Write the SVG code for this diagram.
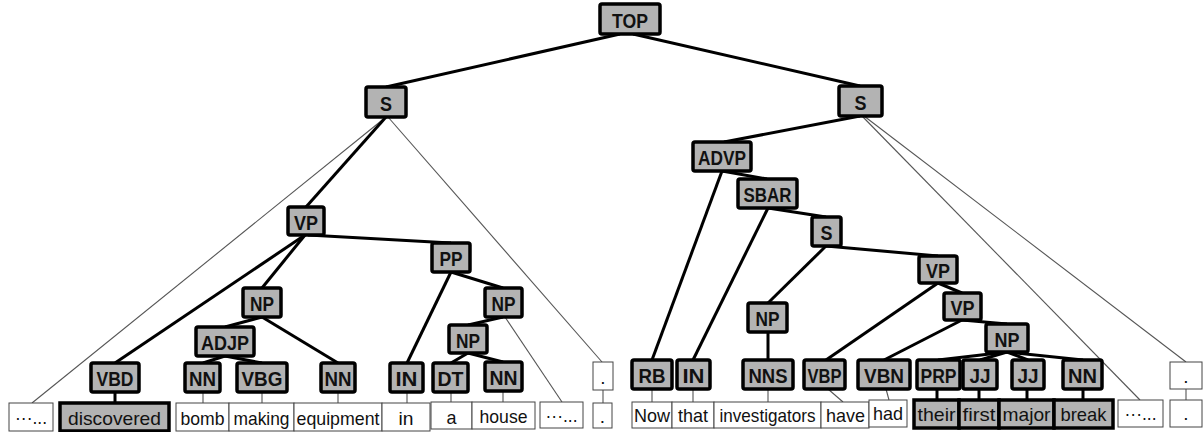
<svg xmlns="http://www.w3.org/2000/svg" width="1204" height="432" viewBox="0 0 1204 432">
<style>
.n rect{fill:#b3b3b3;stroke:#000;stroke-width:3.5}
.n text{font-family:"Liberation Sans",Arial,sans-serif;font-size:21px;font-weight:bold;fill:#111;text-anchor:middle;dominant-baseline:central}
.w rect{fill:#fff;stroke:#444;stroke-width:1}
.w text{font-family:"Liberation Sans",Arial,sans-serif;font-size:19px;fill:#111;text-anchor:middle;dominant-baseline:central}
.h rect{fill:#b3b3b3;stroke:#000;stroke-width:3.5}
.h text{font-family:"Liberation Sans",Arial,sans-serif;font-size:19px;fill:#111;text-anchor:middle;dominant-baseline:central}
.e{stroke:#000;stroke-width:3;fill:none}
.t{stroke:#555;stroke-width:1.1;fill:none}
</style>
<rect width="1204" height="432" fill="#fff"/>
<g id="connectors">
<line class="e" x1="620" y1="34" x2="386" y2="87"/>
<line class="e" x1="633" y1="34" x2="860" y2="86"/>
<line class="t" x1="386" y1="117" x2="32" y2="403"/>
<line class="t" x1="388" y1="117" x2="602" y2="362"/>
<line class="e" x1="386" y1="117" x2="306" y2="207"/>
<line class="e" x1="305" y1="235" x2="115" y2="363"/>
<line class="e" x1="305" y1="235" x2="262" y2="288"/>
<line class="e" x1="308" y1="235" x2="451" y2="243"/>
<line class="e" x1="262" y1="317" x2="225" y2="327"/>
<line class="e" x1="262" y1="317" x2="338" y2="363"/>
<line class="e" x1="225" y1="356" x2="203" y2="363"/>
<line class="e" x1="225" y1="356" x2="262" y2="363"/>
<line class="e" x1="451" y1="272" x2="407" y2="363"/>
<line class="e" x1="451" y1="272" x2="503" y2="288"/>
<line class="e" x1="503" y1="317" x2="468" y2="325"/>
<line class="t" x1="505" y1="317" x2="562" y2="402"/>
<line class="e" x1="468" y1="353" x2="451" y2="363"/>
<line class="e" x1="468" y1="353" x2="503" y2="362"/>
<line class="e" x1="115" y1="392" x2="115" y2="403"/>
<line class="t" x1="203" y1="392" x2="203" y2="403"/>
<line class="t" x1="262" y1="392" x2="262" y2="403"/>
<line class="t" x1="338" y1="392" x2="338" y2="403"/>
<line class="t" x1="407" y1="392" x2="407" y2="403"/>
<line class="t" x1="451" y1="392" x2="451" y2="402"/>
<line class="t" x1="503" y1="391" x2="503" y2="402"/>
<line class="t" x1="603" y1="390" x2="603" y2="403"/>
<line class="e" x1="860" y1="116" x2="724" y2="142"/>
<line class="t" x1="862" y1="116" x2="1140" y2="400"/>
<line class="t" x1="864" y1="116" x2="1186" y2="362"/>
<line class="e" x1="722" y1="171" x2="767" y2="179"/>
<line class="e" x1="722" y1="171" x2="652" y2="360"/>
<line class="e" x1="768" y1="208" x2="693" y2="360"/>
<line class="e" x1="768" y1="208" x2="826" y2="217"/>
<line class="e" x1="826" y1="246" x2="768" y2="303"/>
<line class="e" x1="826" y1="246" x2="938" y2="256"/>
<line class="e" x1="768" y1="332" x2="768" y2="360"/>
<line class="e" x1="938" y1="283" x2="826" y2="360"/>
<line class="e" x1="938" y1="283" x2="962" y2="293"/>
<line class="e" x1="962" y1="320" x2="884" y2="360"/>
<line class="e" x1="962" y1="320" x2="1007" y2="324"/>
<line class="e" x1="1007" y1="352" x2="938" y2="360"/>
<line class="e" x1="1007" y1="352" x2="980" y2="360"/>
<line class="e" x1="1007" y1="352" x2="1028" y2="360"/>
<line class="e" x1="1007" y1="352" x2="1083" y2="360"/>
<line class="t" x1="652" y1="389" x2="652" y2="402"/>
<line class="t" x1="693" y1="389" x2="693" y2="402"/>
<line class="t" x1="768" y1="389" x2="768" y2="402"/>
<line class="t" x1="828" y1="389" x2="843" y2="402"/>
<line class="t" x1="886" y1="389" x2="889" y2="400"/>
<line class="e" x1="937" y1="389" x2="937" y2="400"/>
<line class="e" x1="979" y1="389" x2="979" y2="400"/>
<line class="e" x1="1027" y1="389" x2="1027" y2="400"/>
<line class="e" x1="1083" y1="389" x2="1083" y2="400"/>
<line class="t" x1="1186" y1="389" x2="1186" y2="400"/>
</g>
<g id="TOP" class="n"><rect x="600" y="4" width="60" height="30" rx="2"/><text x="630" y="20" textLength="36" lengthAdjust="spacingAndGlyphs">TOP</text></g>
<g id="S-left" class="n"><rect x="366" y="87" width="40" height="30" rx="2"/><text x="386" y="103" textLength="12" lengthAdjust="spacingAndGlyphs">S</text></g>
<g id="S-right" class="n"><rect x="839" y="86" width="43" height="30" rx="2"/><text x="860.5" y="102" textLength="12" lengthAdjust="spacingAndGlyphs">S</text></g>
<g id="VP-1" class="n"><rect x="288" y="207" width="36" height="28" rx="2"/><text x="306" y="222" textLength="24" lengthAdjust="spacingAndGlyphs">VP</text></g>
<g id="PP" class="n"><rect x="432" y="243" width="38" height="29" rx="2"/><text x="451" y="258.5" textLength="23" lengthAdjust="spacingAndGlyphs">PP</text></g>
<g id="NP-1" class="n"><rect x="243" y="288" width="38" height="29" rx="2"/><text x="262" y="303.5" textLength="24" lengthAdjust="spacingAndGlyphs">NP</text></g>
<g id="NP-2" class="n"><rect x="485" y="288" width="37" height="29" rx="2"/><text x="503.5" y="303.5" textLength="24" lengthAdjust="spacingAndGlyphs">NP</text></g>
<g id="ADJP" class="n"><rect x="196" y="327" width="58" height="29" rx="2"/><text x="225" y="342.5" textLength="48" lengthAdjust="spacingAndGlyphs">ADJP</text></g>
<g id="NP-3" class="n"><rect x="449" y="325" width="38" height="28" rx="2"/><text x="468" y="340" textLength="24" lengthAdjust="spacingAndGlyphs">NP</text></g>
<g id="VBD" class="n"><rect x="91" y="363" width="48" height="29" rx="2"/><text x="115" y="378.5" textLength="37" lengthAdjust="spacingAndGlyphs">VBD</text></g>
<g id="NN-1" class="n"><rect x="185" y="363" width="35" height="29" rx="2"/><text x="202.5" y="378.5" textLength="27" lengthAdjust="spacingAndGlyphs">NN</text></g>
<g id="VBG" class="n"><rect x="237" y="363" width="50" height="29" rx="2"/><text x="262" y="378.5" textLength="41" lengthAdjust="spacingAndGlyphs">VBG</text></g>
<g id="NN-2" class="n"><rect x="321" y="363" width="34" height="29" rx="2"/><text x="338" y="378.5" textLength="27" lengthAdjust="spacingAndGlyphs">NN</text></g>
<g id="IN-1" class="n"><rect x="390" y="363" width="33" height="29" rx="2"/><text x="406.5" y="378.5" textLength="22" lengthAdjust="spacingAndGlyphs">IN</text></g>
<g id="DT" class="n"><rect x="433" y="363" width="35" height="29" rx="2"/><text x="450.5" y="378.5" textLength="26" lengthAdjust="spacingAndGlyphs">DT</text></g>
<g id="NN-3" class="n"><rect x="485" y="362" width="37" height="29" rx="2"/><text x="503.5" y="377.5" textLength="28" lengthAdjust="spacingAndGlyphs">NN</text></g>
<g id="dot-1" class="w"><rect x="593" y="362" width="20" height="28"/><text x="603" y="377">.</text></g>
<g id="w-ell-1" class="w"><rect x="9" y="403" width="44" height="28"/><text x="31" y="417" textLength="32" lengthAdjust="spacingAndGlyphs">···...</text></g>
<g id="w-discovered" class="h"><rect x="60" y="403" width="109" height="28"/><text x="114.5" y="418" textLength="93" lengthAdjust="spacingAndGlyphs">discovered</text></g>
<g id="w-bomb" class="w"><rect x="176" y="403" width="53" height="28"/><text x="202.5" y="418" textLength="44" lengthAdjust="spacingAndGlyphs">bomb</text></g>
<g id="w-making" class="w"><rect x="229" y="403" width="65" height="28"/><text x="261.5" y="418" textLength="56" lengthAdjust="spacingAndGlyphs">making</text></g>
<g id="w-equipment" class="w"><rect x="294" y="403" width="88" height="28"/><text x="338" y="418" textLength="83" lengthAdjust="spacingAndGlyphs">equipment</text></g>
<g id="w-in" class="w"><rect x="382" y="403" width="48" height="28"/><text x="406" y="418" textLength="15" lengthAdjust="spacingAndGlyphs">in</text></g>
<g id="w-a" class="w"><rect x="431" y="402" width="41" height="27"/><text x="451.5" y="417" textLength="10" lengthAdjust="spacingAndGlyphs">a</text></g>
<g id="w-house" class="w"><rect x="472" y="402" width="63" height="27"/><text x="503.5" y="416" textLength="48" lengthAdjust="spacingAndGlyphs">house</text></g>
<g id="w-ell-2" class="w"><rect x="540" y="402" width="43" height="26"/><text x="561.5" y="415" textLength="32" lengthAdjust="spacingAndGlyphs">···...</text></g>
<g id="w-dot-1" class="w"><rect x="593" y="403" width="19" height="25"/><text x="602.5" y="416">.</text></g>
<g id="ADVP" class="n"><rect x="693" y="142" width="58" height="29" rx="2"/><text x="722" y="157.5" textLength="48" lengthAdjust="spacingAndGlyphs">ADVP</text></g>
<g id="SBAR" class="n"><rect x="738" y="179" width="59" height="29" rx="2"/><text x="767.5" y="194.5" textLength="48" lengthAdjust="spacingAndGlyphs">SBAR</text></g>
<g id="S-2" class="n"><rect x="812" y="217" width="29" height="29" rx="2"/><text x="826.5" y="232.5" textLength="12" lengthAdjust="spacingAndGlyphs">S</text></g>
<g id="NP-4" class="n"><rect x="748" y="303" width="39" height="29" rx="2"/><text x="767.5" y="318.5" textLength="24" lengthAdjust="spacingAndGlyphs">NP</text></g>
<g id="VP-2" class="n"><rect x="919" y="256" width="38" height="27" rx="2"/><text x="938" y="270.5" textLength="24" lengthAdjust="spacingAndGlyphs">VP</text></g>
<g id="VP-3" class="n"><rect x="944" y="293" width="37" height="27" rx="2"/><text x="962.5" y="307.5" textLength="24" lengthAdjust="spacingAndGlyphs">VP</text></g>
<g id="NP-5" class="n"><rect x="986" y="324" width="42" height="28" rx="2"/><text x="1007" y="339" textLength="25" lengthAdjust="spacingAndGlyphs">NP</text></g>
<g id="RB" class="n"><rect x="632" y="360" width="40" height="29" rx="2"/><text x="652" y="375.5" textLength="27" lengthAdjust="spacingAndGlyphs">RB</text></g>
<g id="IN-2" class="n"><rect x="677" y="360" width="33" height="29" rx="2"/><text x="693.5" y="375.5" textLength="22" lengthAdjust="spacingAndGlyphs">IN</text></g>
<g id="NNS" class="n"><rect x="743" y="360" width="50" height="29" rx="2"/><text x="768" y="375.5" textLength="39" lengthAdjust="spacingAndGlyphs">NNS</text></g>
<g id="VBP" class="n"><rect x="804" y="360" width="41" height="29" rx="2"/><text x="824.5" y="375.5" textLength="34" lengthAdjust="spacingAndGlyphs">VBP</text></g>
<g id="VBN" class="n"><rect x="858" y="360" width="52" height="29" rx="2"/><text x="884" y="375.5" textLength="40" lengthAdjust="spacingAndGlyphs">VBN</text></g>
<g id="PRP" class="n"><rect x="917" y="360" width="43" height="29" rx="2"/><text x="938.5" y="375.5" textLength="36" lengthAdjust="spacingAndGlyphs">PRP</text></g>
<g id="JJ-1" class="n"><rect x="963" y="360" width="34" height="29" rx="2"/><text x="980" y="375.5" textLength="21" lengthAdjust="spacingAndGlyphs">JJ</text></g>
<g id="JJ-2" class="n"><rect x="1012" y="360" width="32" height="29" rx="2"/><text x="1028" y="375.5" textLength="21" lengthAdjust="spacingAndGlyphs">JJ</text></g>
<g id="NN-4" class="n"><rect x="1063" y="360" width="39" height="29" rx="2"/><text x="1082.5" y="375.5" textLength="29" lengthAdjust="spacingAndGlyphs">NN</text></g>
<g id="dot-2" class="w"><rect x="1170" y="362" width="32" height="27"/><text x="1186" y="376">.</text></g>
<g id="w-Now" class="w"><rect x="632" y="402" width="40" height="26"/><text x="652" y="415" textLength="36" lengthAdjust="spacingAndGlyphs">Now</text></g>
<g id="w-that" class="w"><rect x="672" y="402" width="42" height="26"/><text x="693" y="415" textLength="30" lengthAdjust="spacingAndGlyphs">that</text></g>
<g id="w-investigators" class="w"><rect x="714" y="402" width="107" height="26"/><text x="767.5" y="415" textLength="96" lengthAdjust="spacingAndGlyphs">investigators</text></g>
<g id="w-have" class="w"><rect x="821" y="402" width="48" height="26"/><text x="845.5" y="415" textLength="39" lengthAdjust="spacingAndGlyphs">have</text></g>
<g id="w-had" class="w"><rect x="869" y="400" width="38" height="27"/><text x="888" y="413" textLength="30" lengthAdjust="spacingAndGlyphs">had</text></g>
<g id="w-their" class="h"><rect x="914" y="400" width="45" height="28"/><text x="936.5" y="414" textLength="38" lengthAdjust="spacingAndGlyphs">their</text></g>
<g id="w-first" class="h"><rect x="959" y="400" width="40" height="28"/><text x="979" y="414" textLength="33" lengthAdjust="spacingAndGlyphs">first</text></g>
<g id="w-major" class="h"><rect x="999" y="400" width="55" height="28"/><text x="1026.5" y="414" textLength="48" lengthAdjust="spacingAndGlyphs">major</text></g>
<g id="w-break" class="h"><rect x="1054" y="400" width="59" height="28"/><text x="1083.5" y="414" textLength="46" lengthAdjust="spacingAndGlyphs">break</text></g>
<g id="w-ell-3" class="w"><rect x="1118" y="400" width="45" height="27"/><text x="1140.5" y="413" textLength="32" lengthAdjust="spacingAndGlyphs">···...</text></g>
<g id="w-dot-2" class="w"><rect x="1170" y="400" width="32" height="27"/><text x="1186" y="413">.</text></g>
</svg>
